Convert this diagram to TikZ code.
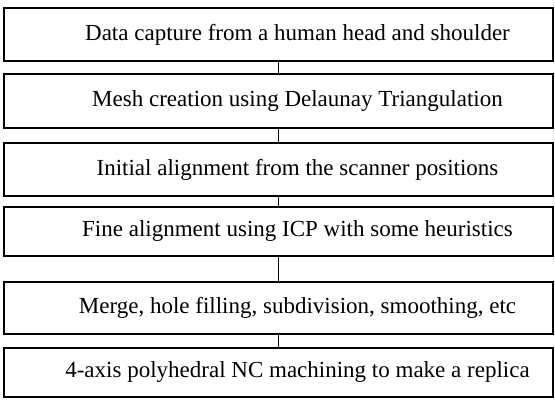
\documentclass[tikz,border=0pt]{standalone}
\usepackage{fontspec}
\setmainfont{Liberation Serif}
\begin{document}
\begin{tikzpicture}[x=1pt,y=1pt,
  stagebox/.style={draw, line width=1.2pt, minimum width=549pt, inner sep=0pt, font=\fontsize{23}{26}\selectfont},
  link/.style={line width=1.2pt}]
\useasboundingbox (0,0) rectangle (555,401);
\node[stagebox, minimum height=53pt] (b1) at (278.5,366.5) {\hspace*{38pt}Data capture from a human head and shoulder};
\node[stagebox, minimum height=54pt] (b2) at (278.5,300) {\hspace*{38pt}Mesh creation using Delaunay Triangulation};
\node[stagebox, minimum height=53pt] (b3) at (278.5,231.5) {\hspace*{38pt}Initial alignment from the scanner positions};
\node[stagebox, minimum height=49pt] (b4) at (278.5,169.5) {\hspace*{38pt}Fine alignment using ICP with some heuristics};
\node[stagebox, minimum height=52pt] (b5) at (278.5,93) {\hspace*{38pt}Merge, hole filling, subdivision, smoothing, etc};
\node[stagebox, minimum height=49pt] (b6) at (278.5,28.5) {\hspace*{38pt}4-axis polyhedral NC machining to make a replica};
\draw[link] (b1.south) -- (b2.north);
\draw[link] (b2.south) -- (b3.north);
\draw[link] (b3.south) -- (b4.north);
\draw[link] (b4.south) -- (b5.north);
\draw[link] (b5.south) -- (b6.north);
\end{tikzpicture}
\end{document}
